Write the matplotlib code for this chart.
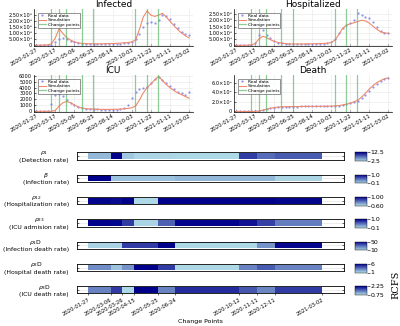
import numpy as np
import matplotlib
matplotlib.use('Agg')
import matplotlib.pyplot as plt
import matplotlib.dates as mdates
from matplotlib.colors import LinearSegmentedColormap
from matplotlib.ticker import FuncFormatter

W, H = 400, 326

# model output vs observations, one sample every 10 days from 2020-01-27
start = np.datetime64('2020-01-27')
days = np.arange(0, 401, 10)
dates = (start + days.astype('timedelta64[D]')).astype('datetime64[s]').astype(object)

infected_real = [0, 0, 0, 0.01, 0.05, 0.3, 0.5, 0.58, 0.5, 0.36, 0.24, 0.16, 0.12, 0.1, 0.09,
                 0.08, 0.08, 0.08, 0.09, 0.1, 0.11, 0.12, 0.13, 0.15, 0.18, 0.28, 0.5, 0.9, 1.45,
                 1.78, 1.9, 1.85, 2.05, 2.5, 2.4, 2.1, 1.72, 1.38, 1.12, 0.92, 0.85]
infected_sim = [0.01, 0.01, 0.02, 0.04, 0.12, 0.6, 1.35, 0.95, 0.62, 0.42, 0.28, 0.2, 0.16, 0.14,
                0.13, 0.12, 0.12, 0.12, 0.13, 0.14, 0.15, 0.16, 0.18, 0.2, 0.23, 0.28, 0.45, 1.3,
                2.3, 2.8, 2.45, 2.35, 2.45, 2.6, 2.3, 1.95, 1.6, 1.28, 1.0, 0.78, 0.6]
hosp_real = [0, 0, 0, 0, 0.02, 0.15, 0.85, 1.22, 0.85, 0.55, 0.35, 0.22, 0.15, 0.12, 0.1, 0.09,
             0.09, 0.09, 0.1, 0.1, 0.11, 0.12, 0.13, 0.14, 0.17, 0.25, 0.5, 0.95, 1.4, 1.62, 1.75,
             2.0, 2.55, 2.4, 2.25, 2.2, 1.85, 1.45, 1.15, 1.02, 0.97]
hosp_sim = [0, 0, 0, 0.01, 0.03, 0.15, 0.5, 0.72, 0.62, 0.45, 0.32, 0.23, 0.17, 0.14, 0.12, 0.11,
            0.11, 0.11, 0.11, 0.12, 0.12, 0.13, 0.14, 0.15, 0.17, 0.22, 0.42, 0.85, 1.35, 1.6,
            1.72, 1.8, 1.9, 2.0, 1.95, 1.78, 1.52, 1.28, 1.08, 1.0, 0.95]
icu_real = [0, 0, 0, 100, 1200, 2700, 2850, 2500, 1900, 1450, 1000, 700, 520, 420, 380, 350, 320,
            300, 280, 270, 280, 300, 350, 500, 1000, 2300, 3200, 3700, 3950, 4100, 4800, 5500,
            5800, 5250, 4700, 4200, 3700, 3300, 3000, 2750, 3250]
icu_sim = [0, 0, 0, 0, 20, 150, 900, 1450, 1650, 1450, 1050, 750, 550, 450, 400, 370, 350, 330,
           320, 320, 330, 350, 380, 420, 500, 600, 900, 1900, 3100, 4000, 4600, 5300, 5850, 5200,
           4500, 3950, 3500, 3100, 2800, 2500, 2200]
death_real = [0, 0, 0, 0, 0, 0.02, 0.08, 0.25, 0.45, 0.65, 0.8, 0.9, 0.95, 0.98, 1.0, 1.02, 1.03,
              1.04, 1.05, 1.05, 1.06, 1.07, 1.08, 1.09, 1.1, 1.12, 1.15, 1.22, 1.33, 1.48, 1.68,
              1.92, 2.22, 2.75, 3.45, 4.25, 5.05, 5.75, 6.3, 6.75, 7.05]
death_sim = [0, 0, 0, 0, 0, 0.03, 0.1, 0.28, 0.48, 0.67, 0.82, 0.91, 0.96, 0.99, 1.01, 1.02, 1.03,
             1.04, 1.05, 1.06, 1.06, 1.07, 1.08, 1.09, 1.1, 1.12, 1.16, 1.23, 1.35, 1.5, 1.72, 2.0,
             2.35, 3.0, 3.8, 4.65, 5.4, 6.0, 6.45, 6.8, 7.0]

change_points = ['2020-01-27', '2020-03-06', '2020-03-26', '2020-04-15', '2020-05-25',
                 '2020-06-24', '2020-10-12', '2020-11-11', '2020-12-11', '2021-03-02']
top_ticks = ['2020-01-27', '2020-03-17', '2020-05-06', '2020-06-25', '2020-08-14',
             '2020-10-03', '2020-11-22', '2021-01-11', '2021-03-02']

# parameter values per interval between change points
rho1 = [4.0, 12.5, 3.3, 2.6, 2.6, 2.5, 9.7, 7.5, 8.3]
beta = [1.0, 0.19, 0.19, 0.19, 0.19, 0.24, 0.24, 0.24, 0.12]
rho12 = [0.99, 0.98, 1.0, 0.6, 1.0, 1.0, 1.0, 1.0, 0.99]
rho23 = [1.0, 0.98, 0.75, 0.12, 0.6, 0.98, 0.93, 0.73, 0.48]
rho1d = [10.8, 10.8, 38.8, 38.8, 50, 10, 10, 22.8, 48.8]
rho2d = [2.75, 1.5, 2.6, 6.0, 4.6, 1.0, 3.0, 3.9, 3.0]
rho3d = [1.35, 1.83, 0.75, 2.25, 1.35, 1.95, 1.65, 1.32, 1.83]

param_labels = [r'$\rho_1$' + '\n(Detection rate)', r'$\beta$' + '\n(Infection rate)',
                r'$\rho_{12}$' + '\n(Hospitalization rate)', r'$\rho_{23}$' + '\n(ICU admision rate)',
                r'$\rho_1$D' + '\n(Infection death rate)', r'$\rho_2$D' + '\n(Hospital death rate)',
                r'$\rho_3$D' + '\n(ICU death rate)']
param_values = [rho1, beta, rho12, rho23, rho1d, rho2d, rho3d]
cbar_limits = [(2.5, 12.5), (0.1, 1.0), (0.6, 1.0), (0.1, 1.0), (10, 50), (1, 6), (0.75, 2.25)]
cbar_labels = [('2.5', '12.5'), ('0.1', '1.0'), ('0.60', '1.00'), ('0.1', '1.0'),
               ('10', '50'), ('1', '6'), ('0.75', '2.25')]

fig = plt.figure(figsize=(W / 100, H / 100), dpi=100)

SUP = str.maketrans('0123456789-', '⁰¹²³⁴⁵⁶⁷⁸⁹⁻')


def px_axes(l, t, r, b):
    return fig.add_axes([l / W, 1 - b / H, (r - l) / W, (b - t) / H])


def d(s):
    return np.datetime64(s).astype('datetime64[s]').astype(object)


def sci_fmt(dec):
    def f(v, pos):
        if abs(v) < 1e-9:
            return '0'
        e = int(np.floor(np.log10(abs(v)) + 1e-9))
        return '%.*f×10%s' % (dec, v / 10 ** e, str(e).translate(SUP))
    return FuncFormatter(f)


blue = '#6f6fe8'
orange = '#f08a6a'
green = '#5cb86a'

panels = [
    ('Infected', (33.5, 9, 193, 45.7), infected_real, infected_sim, 1e6,
     np.arange(0, 2.6e6, 0.5e6), (-0.03e6, 2.95e6), sci_fmt(2)),
    ('Hospitalized', (233.5, 9, 392, 45.7), hosp_real, hosp_sim, 1e6,
     np.arange(0, 2.6e6, 0.5e6), (-0.03e6, 2.9e6), sci_fmt(2)),
    ('ICU', (33.5, 75, 193, 111.7), icu_real, icu_sim, 1,
     np.arange(0, 6001, 1000), (-60, 6100), FuncFormatter(lambda v, p: '%d' % v)),
    ('Death', (233.5, 75, 392, 111.7), death_real, death_sim, 1e4,
     [0, 2e4, 4e4, 6e4], (-0.05e4, 7.6e4), sci_fmt(1)),
]

for title, box, real, sim, scale, yt, ylim, fmt in panels:
    ax = px_axes(*box)
    ax.plot(dates, np.array(real) * scale, 'o', ms=1.6, mew=0, color=blue, alpha=0.75,
            label='Real data')
    ax.plot(dates, np.array(sim) * scale, '-', lw=0.8, color=orange, label='Simulation')
    for i, cp in enumerate(change_points[1:-1]):
        ax.axvline(d(cp), color=green, lw=0.9, alpha=0.7,
                   label='Change points' if i == 0 else None)
    ax.set_title(title, fontsize=6.5, pad=1.5)
    ax.set_xlim(d('2020-01-20'), d('2021-03-12'))
    ax.set_ylim(*ylim)
    ax.set_yticks(yt)
    ax.yaxis.set_major_formatter(fmt)
    ax.set_xticks([d(t) for t in top_ticks])
    ax.xaxis.set_major_formatter(mdates.DateFormatter('%Y-%m-%d'))
    for lab in ax.get_xticklabels():
        lab.set_rotation(30)
        lab.set_ha('right')
        lab.set_rotation_mode('anchor')
    ax.tick_params(axis='x', labelsize=3.8, length=1.5, width=0.4, pad=1, direction='in')
    ax.tick_params(axis='y', labelsize=3.6, length=1.5, width=0.4, pad=1, direction='in')
    ax.grid(True, color='#e6e6e6', lw=0.4)
    ax.set_axisbelow(True)
    for s in ['top', 'right']:
        ax.spines[s].set_visible(False)
    for s in ['left', 'bottom']:
        ax.spines[s].set_linewidth(0.5)
    leg = ax.legend(loc='upper left', fontsize=3.2, frameon=True, borderpad=0.25,
                    handlelength=1.6, handletextpad=0.4, labelspacing=0.05, fancybox=False,
                    borderaxespad=0.2, bbox_to_anchor=(0.02, 0.92))
    leg.get_frame().set_edgecolor('#444444')
    leg.get_frame().set_linewidth(0.5)

cmap = LinearSegmentedColormap.from_list('lb_db', ['#add8e6', '#00008b'])
edges = [d(c) for c in change_points]

for i, (label, vals, (lo, hi), (tlo, thi)) in enumerate(
        zip(param_labels, param_values, cbar_limits, cbar_labels)):
    c = 156 + 22.3 * i
    ax = px_axes(76.7, c - 3.6, 344.3, c + 3.6)
    ax.axhline(0.5, color='#dddddd', lw=0.4, zorder=0)
    mesh = ax.pcolormesh(mdates.date2num(edges), [0, 1], np.array([vals]),
                         cmap=cmap, vmin=lo, vmax=hi, shading='flat')
    ax.set_xlim(d('2020-01-08'), d('2021-04-09'))
    ax.set_ylim(-0.12, 1.12)
    ax.set_yticks([0.5])
    ax.tick_params(axis='y', left=True, right=True, labelleft=False, length=1.5, width=0.4,
                   direction='in')
    for s in ax.spines.values():
        s.set_linewidth(0.6)
    ax.set_xticks([d(cp) for cp in change_points])
    if i == len(param_labels) - 1:
        ax.xaxis.set_major_formatter(mdates.DateFormatter('%Y-%m-%d'))
        for lab in ax.get_xticklabels():
            lab.set_rotation(30)
            lab.set_ha('right')
            lab.set_rotation_mode('anchor')
        ax.tick_params(axis='x', labelsize=3.8, length=1.5, width=0.4, pad=1)
    else:
        ax.tick_params(axis='x', bottom=False, labelbottom=False)
    fig.text(69 / W, 1 - c / H, label, ha='right', va='center', ma='center', fontsize=4.4,
             linespacing=1.05)

    cax = px_axes(355, c - 3.7, 366.5, c + 5.0)
    cb = fig.colorbar(mesh, cax=cax, ticks=[lo, hi])
    cb.ax.set_yticklabels([tlo, thi])
    cb.ax.tick_params(labelsize=4.5, length=2, width=0.4, pad=1)
    cb.outline.set_linewidth(0.3)

fig.text(0.5, 1 - 322 / H, 'Change Points', ha='center', va='center', fontsize=4.5)
fig.text(396 / W, 1 - 285 / H, 'RCFS', rotation=90, ha='center', va='center',
         fontsize=7, family='DejaVu Serif')

fig.savefig('out.png', dpi=100)
